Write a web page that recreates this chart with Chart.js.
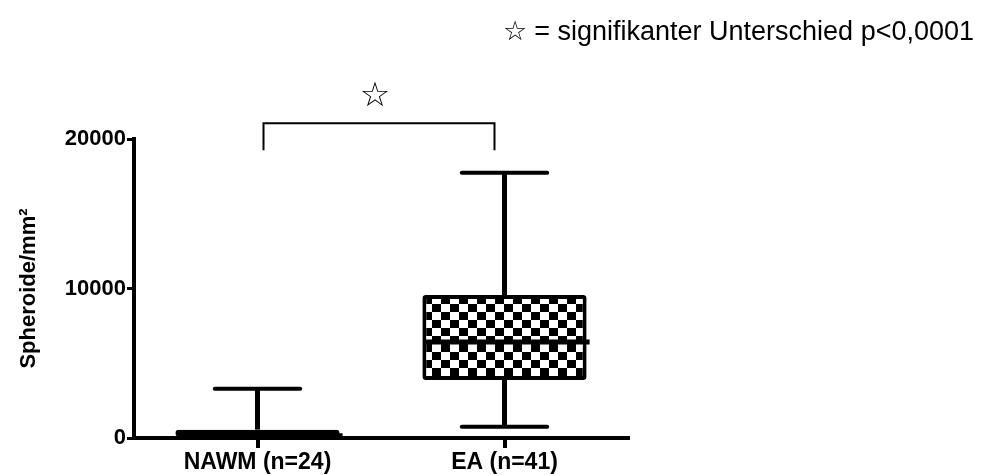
<!DOCTYPE html>
<html>
<head>
<meta charset="utf-8">
<script src="https://cdn.jsdelivr.net/npm/chart.js@4.4.0/dist/chart.umd.min.js"></script>
<style>
  html, body { margin: 0; padding: 0; background: #fff; }
  #wrap { position: relative; width: 987px; height: 475px; }
</style>
</head>
<body>
<div id="wrap"><canvas id="chart"></canvas></div>
<script>
// box plot values per group
const groups = ["NAWM (n=24)", "EA (n=41)"];
const whiskerLow = [0, 750];
const q1 = [0, 3880];
const median = [150, 6420];
const q3 = [560, 9560];
const whiskerHigh = [3300, 17750];
const yTicks = [0, 10000, 20000];
// significance bracket levels (data units) and note text
const sigBracket = 21050;
const sigLeg = 19250;
const sigStar = 22800;
const noteText = "\u2606 = signifikanter Unterschied p<0,0001";

const FONT = "Arial, 'Liberation Sans', sans-serif";

// black/white checkerboard fill like the original box
function checker() {
  const c = document.createElement("canvas");
  c.width = 18; c.height = 16;
  const g = c.getContext("2d");
  g.fillStyle = "#fff"; g.fillRect(0, 0, 18, 16);
  g.fillStyle = "#000"; g.fillRect(0, 0, 9, 8); g.fillRect(9, 8, 9, 8);
  return g.createPattern(c, "repeat");
}

const line = (ctx, x1, y1, x2, y2) => {
  ctx.beginPath(); ctx.moveTo(x1, y1); ctx.lineTo(x2, y2); ctx.stroke();
};

// whiskers, caps, median line, bracket + star, note text
const boxPlot = {
  id: "boxPlot",
  afterDatasetsDraw(chart) {
    const { ctx } = chart;
    const y = chart.scales.y;
    const bars = chart.getDatasetMeta(0).data;
    ctx.save();
    ctx.strokeStyle = "#000";
    bars.forEach((bar, i) => {
      const x = bar.x, w = bar.width, cap = w * 0.26;
      ctx.lineCap = "butt";
      ctx.lineWidth = 5;
      line(ctx, x - w / 2 + 2, y.getPixelForValue(median[i]), x + w / 2 + 3, y.getPixelForValue(median[i]));
      line(ctx, x, y.getPixelForValue(q3[i]), x, y.getPixelForValue(whiskerHigh[i]));
      if (whiskerLow[i] < q1[i]) line(ctx, x, y.getPixelForValue(q1[i]), x, y.getPixelForValue(whiskerLow[i]));
      ctx.lineCap = "round";
      ctx.lineWidth = 4;
      line(ctx, x - cap, y.getPixelForValue(whiskerHigh[i]), x + cap, y.getPixelForValue(whiskerHigh[i]));
      if (whiskerLow[i] < q1[i]) line(ctx, x - cap, y.getPixelForValue(whiskerLow[i]), x + cap, y.getPixelForValue(whiskerLow[i]));
    });

    // significance bracket
    const xa = bars[0].x + 6, xb = bars[1].x - 10;
    const yb = y.getPixelForValue(sigBracket), yl = y.getPixelForValue(sigLeg);
    ctx.lineCap = "butt";
    ctx.lineWidth = 2;
    ctx.beginPath();
    ctx.moveTo(xa, yl); ctx.lineTo(xa, yb); ctx.lineTo(xb, yb); ctx.lineTo(xb, yl);
    ctx.stroke();
    ctx.fillStyle = "#000";
    ctx.textAlign = "center";
    ctx.textBaseline = "middle";
    ctx.font = "34px 'DejaVu Sans', sans-serif";
    ctx.fillText("\u2606", (xa + xb) / 2 - 4, y.getPixelForValue(sigStar));

    ctx.textAlign = "right";
    ctx.textBaseline = "alphabetic";
    ctx.font = "27px " + FONT;
    ctx.fillText(noteText, chart.width - 13, 40);
    ctx.restore();
  }
};

new Chart(document.getElementById("chart"), {
  type: "bar",
  data: {
    labels: groups,
    datasets: [{
      data: groups.map((_, i) => [q1[i], q3[i]]),
      backgroundColor: checker(),
      borderColor: "#000",
      borderWidth: 4,
      borderRadius: 3,
      borderSkipped: false,
      barPercentage: 0.665,
      categoryPercentage: 1
    }]
  },
  options: {
    responsive: true,
    maintainAspectRatio: false,
    animation: false,
    layout: { padding: { top: 139, right: 359, left: 0, bottom: 0 } },
    plugins: { legend: { display: false }, tooltip: { enabled: false } },
    scales: {
      x: {
        offset: true,
        grid: { drawOnChartArea: false, offset: false, tickLength: 10, color: "#000", lineWidth: 4 },
        border: { color: "#000", width: 4 },
        ticks: { color: "#000", padding: 1, font: { family: FONT, size: 23, weight: "bold" } },
        afterFit(s) { s.height = 37; }
      },
      y: {
        min: 0,
        max: 20000,
        afterBuildTicks(s) { s.ticks = yTicks.map((v) => ({ value: v })); },
        grid: { drawOnChartArea: false, tickLength: 7, color: "#000", lineWidth: 3 },
        border: { color: "#000", width: 4 },
        ticks: {
          color: "#000",
          padding: 1,
          font: { family: FONT, size: 22, weight: "bold" },
          callback: (v) => String(v)
        },
        title: {
          display: true,
          text: "Spheroide/mm\u00b2",
          color: "#000",
          padding: { top: 16, bottom: 0 },
          font: { family: FONT, size: 22, weight: "bold" }
        },
        afterFit(s) { s.width = 134; }
      }
    }
  },
  plugins: [boxPlot]
});
</script>
</body>
</html>
